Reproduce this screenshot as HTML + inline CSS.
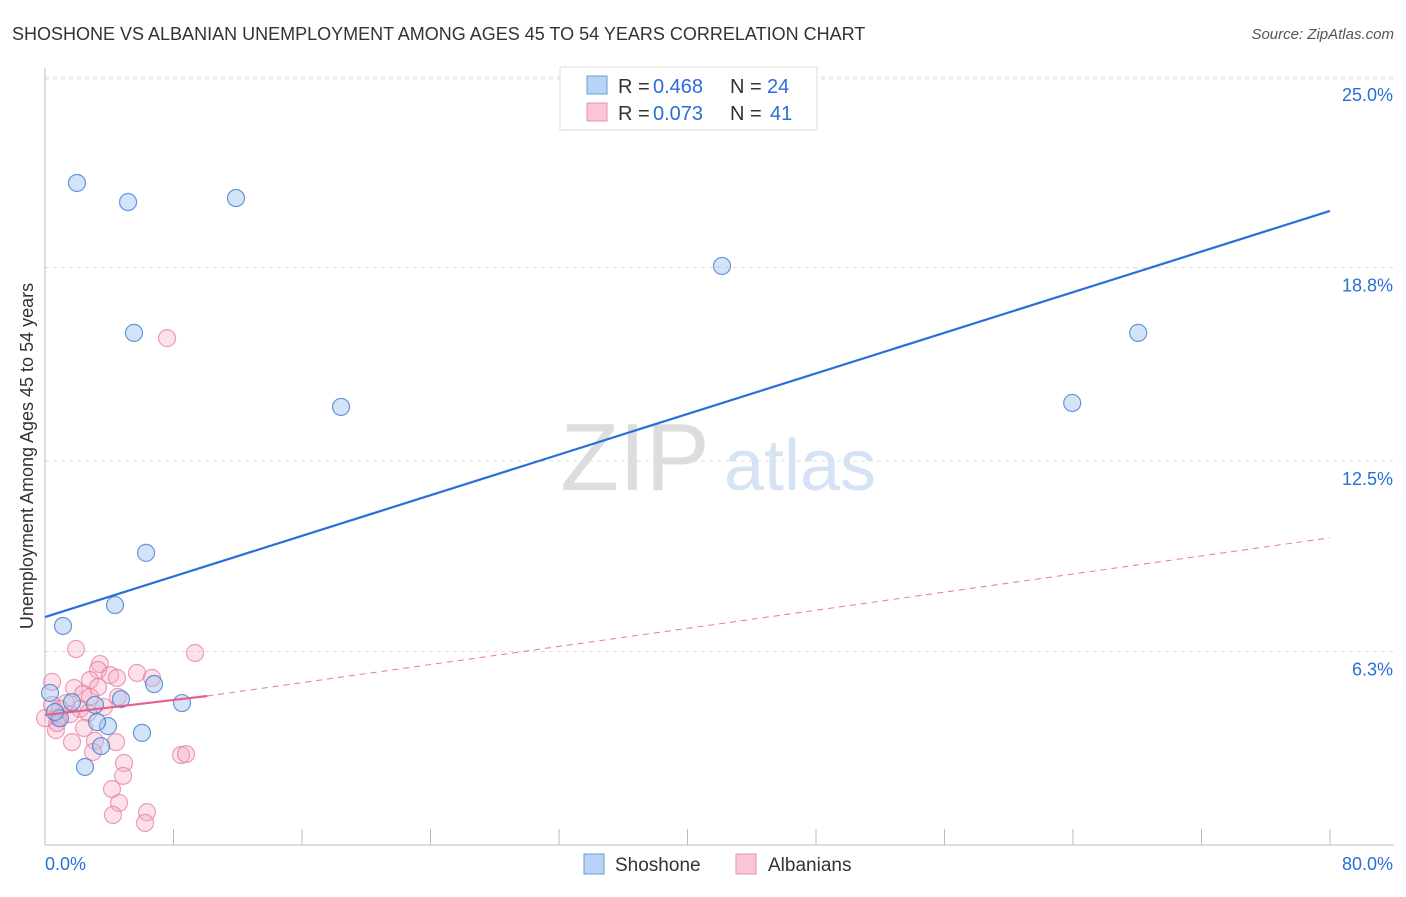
<!DOCTYPE html>
<html><head><meta charset="utf-8"><style>
body{margin:0;background:#fff;font-family:"Liberation Sans",sans-serif}
svg text{font-family:"Liberation Sans",sans-serif}
</style></head><body>
<svg id="c" width="1406" height="892">
<text x="12" y="40" font-size="18" fill="#333">SHOSHONE VS ALBANIAN UNEMPLOYMENT AMONG AGES 45 TO 54 YEARS CORRELATION CHART</text>
<text x="1394" y="39" font-size="15" fill="#555" text-anchor="end" font-style="italic">Source: ZipAtlas.com</text>
<text x="33" y="456" font-size="18" fill="#333" text-anchor="middle" transform="rotate(-90 33 456)">Unemployment Among Ages 45 to 54 years</text>
<g><text x="635" y="490" font-size="96" fill="#ddd" font-family="Liberation Serif" text-anchor="middle">ZIP</text><text x="800" y="490" font-size="72" fill="#d5e3f5" text-anchor="middle">atlas</text></g>
<g id="grid"></g><g id="axes"></g><g id="marks"></g>
<g>
<rect x="560" y="67" width="257" height="63" fill="#fff" stroke="#ddd"/>
<rect x="587" y="76" width="20" height="18" fill="#b8d3f5" stroke="#6a9bd8"/>
<text x="618" y="93" font-size="20" fill="#333">R = </text><text x="653" y="93" font-size="20" fill="#2a6fd6">0.468</text>
<text x="730" y="93" font-size="20" fill="#333">N = </text><text x="767" y="93" font-size="20" fill="#2a6fd6">24</text>
<rect x="587" y="103" width="20" height="18" fill="#f8c6d4" stroke="#e891ab"/>
<text x="618" y="120" font-size="20" fill="#333">R = </text><text x="653" y="120" font-size="20" fill="#2a6fd6">0.073</text>
<text x="730" y="120" font-size="20" fill="#333">N = </text><text x="770" y="120" font-size="20" fill="#2a6fd6">41</text>
</g>
<g>
<rect x="584" y="854" width="20" height="20" fill="#b8d3f5" stroke="#6a9bd8"/>
<text x="615" y="871" font-size="19" fill="#333">Shoshone</text>
<rect x="736" y="854" width="20" height="20" fill="#f8c6d4" stroke="#e891ab"/>
<text x="768" y="871" font-size="19" fill="#333">Albanians</text>
</g>
</svg>
<script>
const yTicks=[25,18.8,12.5,6.3];
const yTickLabels=["25.0%","18.8%","12.5%","6.3%"];
const xTicks=[0,8,16,24,32,40,48,56,64,72,80];
const blueX=[1.99,5.17,11.89,5.54,18.43,42.15,68.06,63.95,6.29,4.36,1.12,6.79,8.53,4.73,3.92,6.04,3.49,2.49,0.31,1.68,3.11,0.93,0.62,3.24];
const blueY=[21.55,20.93,21.06,16.67,14.26,18.85,16.67,14.39,9.51,7.81,7.13,5.24,4.62,4.75,3.87,3.65,3.22,2.54,4.95,4.65,4.56,4.13,4.33,4.0];
const pinkX=[7.6,9.34,1.93,3.42,3.3,4.05,5.73,6.66,4.48,2.8,0.44,1.81,3.3,2.37,2.8,4.54,1.31,3.67,0.44,0.93,2.18,0.81,1.56,2.68,2.43,0.68,1.68,3.11,4.42,2.99,4.92,4.86,4.17,4.61,4.23,6.35,6.23,8.47,8.78,0.75,0];
const pinkY=[16.5,6.25,6.38,5.89,5.7,5.53,5.6,5.44,5.44,5.37,5.31,5.11,5.14,4.92,4.82,4.82,4.62,4.49,4.56,4.43,4.43,4.13,4.26,4.3,3.81,3.74,3.35,3.39,3.35,3.03,2.67,2.25,1.82,1.37,0.98,1.07,0.72,2.93,2.96,3.97,4.13];
const blueLine=[[0,7.42],[80,20.64]];
const pinkLine=[[0,4.23],[10.1,4.85],[80,10.0]];
const X=v=>45+v*1285/80, Y=v=>845-v*30.72;
const ns="http://www.w3.org/2000/svg";
function mk(t,a,p){const e=document.createElementNS(ns,t);for(const k in a)e.setAttribute(k,a[k]);p.appendChild(e);return e;}
const gGrid=document.getElementById('grid'),gAx=document.getElementById('axes'),gM=document.getElementById('marks');
const topGrid=mk('line',{x1:45,x2:1394,y1:79,y2:79,stroke:'#ddd','stroke-dasharray':'4,4'},gGrid);


yTicks.forEach((t,i)=>{const l=mk('line',{x1:45,x2:1394,y1:Y(t),y2:Y(t),stroke:'#ddd','stroke-dasharray':'4,4'},gGrid);


const tx=mk('text',{x:1393,y:Y(t)+24,'font-size':18,fill:'#2a6fd6','text-anchor':'end'},gAx);tx.textContent=yTickLabels[i];

});
const ya=mk('line',{x1:45,x2:45,y1:68,y2:845,stroke:'#bbb'},gAx);


const xa=mk('line',{x1:45,x2:1394,y1:845,y2:845,stroke:'#bbb'},gAx);


xTicks.slice(1).forEach(t=>{const l=mk('line',{x1:X(t),x2:X(t),y1:829,y2:845,stroke:'#bbb'},gAx);

});
const xl0=mk('text',{x:45,y:870,'font-size':18,fill:'#2a6fd6'},gAx);xl0.textContent='0.0%';


const xl1=mk('text',{x:1393,y:870,'font-size':18,fill:'#2a6fd6','text-anchor':'end'},gAx);xl1.textContent='80.0%';


pinkX.forEach((v,i)=>{const c=mk('circle',{cx:X(v),cy:Y(pinkY[i]),r:8.5,fill:'rgba(245,170,195,0.35)',stroke:'rgba(230,120,155,0.7)','stroke-width':1.2},gM);

});
blueX.forEach((v,i)=>{const c=mk('circle',{cx:X(v),cy:Y(blueY[i]),r:8.5,fill:'rgba(160,195,240,0.45)',stroke:'rgba(70,125,205,0.8)','stroke-width':1.2},gM);

});
const bl=mk('line',{x1:X(blueLine[0][0]),y1:Y(blueLine[0][1]),x2:X(blueLine[1][0]),y2:Y(blueLine[1][1]),stroke:'#2a6fd6','stroke-width':2.2},gM);


const pd=mk('line',{x1:X(pinkLine[1][0]),y1:Y(pinkLine[1][1]),x2:X(pinkLine[2][0]),y2:Y(pinkLine[2][1]),stroke:'#e8789d','stroke-width':1,'stroke-dasharray':'6,5'},gM);


const ps=mk('line',{x1:X(pinkLine[0][0]),y1:Y(pinkLine[0][1]),x2:X(pinkLine[1][0]),y2:Y(pinkLine[1][1]),stroke:'#e8608d','stroke-width':2.2},gM);


</script>
</body></html>
